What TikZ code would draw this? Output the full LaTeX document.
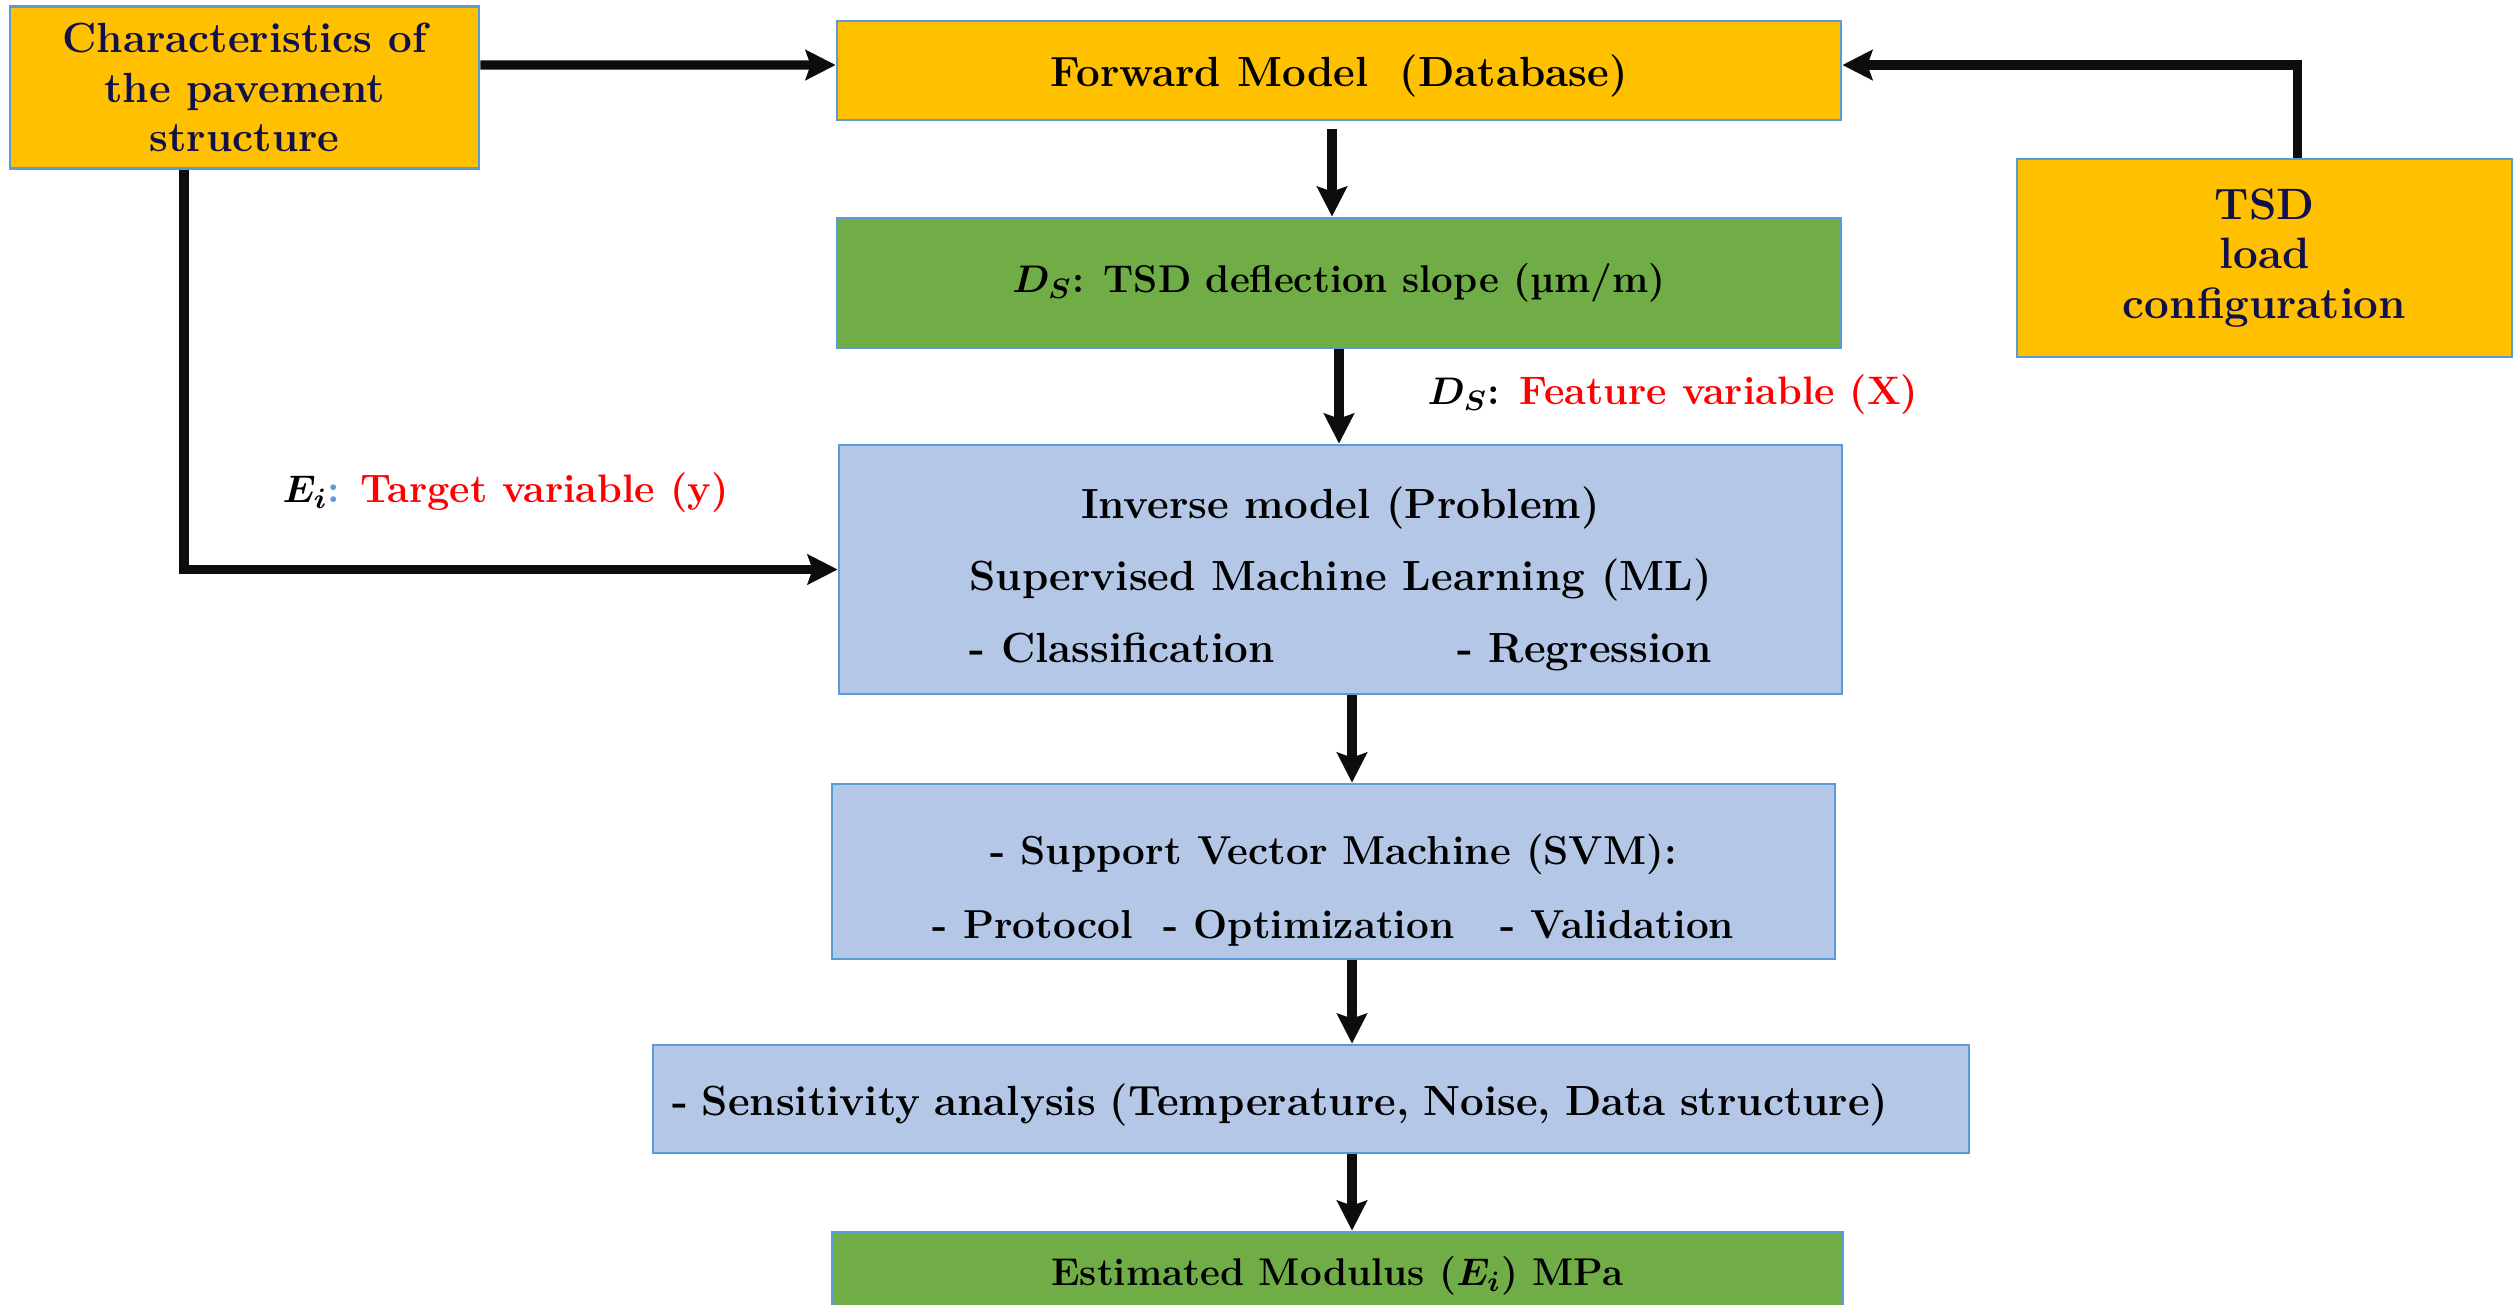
\documentclass[tikz,border=0pt]{standalone}
\usepackage{amsmath,amssymb}
\usepackage{fontspec}
\usepackage{calc}
\usepackage{xcolor}
\usetikzlibrary{arrows.meta}
\definecolor{boxyellow}{HTML}{FFC000}
\definecolor{boxgreen}{HTML}{70AD47}
\definecolor{boxblue}{HTML}{B4C7E7}
\definecolor{boxborder}{HTML}{5B9BD5}
\definecolor{textnavy}{HTML}{10104A}
\definecolor{labelred}{HTML}{FF0000}
\tikzset{
yellowboxv1/.style={rectangle, draw=boxborder, fill=boxyellow, line width=0.8pt, inner sep=0pt, text=textnavy, align=center, font=\bfseries\fontsize{12}{14}\selectfont},
greenboxv1/.style={rectangle, draw=boxborder, fill=boxgreen, line width=0.8pt, inner sep=0pt, text=black, align=center, font=\bfseries\fontsize{11}{14}\selectfont},
blueboxv1/.style={rectangle, draw=boxborder, fill=boxblue, line width=0.8pt, inner sep=0pt, text=black, align=center, font=\bfseries\fontsize{12}{14}\selectfont},
labeltextv1/.style={anchor=west, inner sep=0pt, font=\bfseries\fontsize{11.3}{14}\selectfont},
arrowv1/.style={-{Stealth[length=3mm, width=3mm, inset=0.5mm]}, line width=2.6pt, black!95},
}

\begin{document}
\begin{tikzpicture}
\useasboundingbox (0,0) rectangle (25.14,-13.04);
\node[yellowboxv1, minimum width=4.69cm, minimum height=1.62cm] at (2.445,-0.875) (char) {Characteristics of\\the pavement\\structure};
\node[yellowboxv1, minimum width=10.04cm, minimum height=0.99cm, text=black] at (13.39,-0.705) (fwd) {\rule{0pt}{0.43cm}Forward Model~~(Database)};
\node[yellowboxv1, minimum width=4.95cm, minimum height=1.98cm, font=\bfseries\fontsize{12.5}{14}\selectfont] at (22.645,-2.58) (tsd) {TSD\\load\\configuration};
\node[greenboxv1, minimum width=10.04cm, minimum height=1.30cm] at (13.39,-2.83) (ds) {$\boldsymbol{D_S}$: TSD deflection slope (µm/m)};
\node[blueboxv1, minimum width=10.03cm, minimum height=2.49cm] at (13.405,-5.695) (inv) {\rule{0pt}{0.5cm}Inverse model (Problem)\\[6.5pt]
 Supervised Machine Learning (ML)\\[6.5pt]
 \makebox[\widthof{Supervised Machine Learning (ML)}]{- Classification\hfill - Regression}};
\node[blueboxv1, minimum width=10.03cm, minimum height=1.75cm, font=\bfseries\fontsize{11.5}{14}\selectfont] at (13.335,-8.715) (svm) {\rule{0pt}{0.68cm}- Support Vector Machine (SVM):\\[7pt]
 - Protocol~~- Optimization~~~- Validation};
\node[blueboxv1, minimum width=13.16cm, minimum height=1.08cm, text width=12.78cm, align=left] at (13.11,-10.99) (sens) {\rule{0pt}{0.43cm}- Sensitivity analysis (Temperature, Noise, Data structure)};
\node[greenboxv1, minimum width=10.11cm, minimum height=0.88cm] at (13.375,-12.76) (est) {Estimated Modulus ($\boldsymbol{E_i}$) MPa};

\node[labeltextv1] at (14.27,-3.95) (featlabel) {$\boldsymbol{D_S}$: {\color{labelred}Feature variable (X)}};
\node[labeltextv1] at (2.82,-4.93) (targlabel) {$\boldsymbol{E_i}${\color{boxborder}:} {\color{labelred}Target variable (y)}};

\draw[arrowv1] ([yshift=0.225cm]char.east) -- ([yshift=0.055cm]fwd.west);
\draw[arrowv1] ([xshift=0.33cm]tsd.north) |- ([yshift=0.055cm]fwd.east);
\draw[arrowv1] ([xshift=-0.605cm]char.south) |- (inv.west);
\draw[arrowv1] ([xshift=-0.07cm,yshift=-0.08cm]fwd.south) -- ([xshift=-0.07cm]ds.north);
\draw[arrowv1] (ds.south) -- ([xshift=-0.015cm]inv.north);
\draw[arrowv1] ([xshift=0.115cm]inv.south) -- ([xshift=0.185cm]svm.north);
\draw[arrowv1] ([xshift=0.185cm]svm.south) -- ([xshift=0.41cm]sens.north);
\draw[arrowv1] ([xshift=0.41cm]sens.south) -- ([xshift=0.145cm]est.north);
\end{tikzpicture}
\end{document}
